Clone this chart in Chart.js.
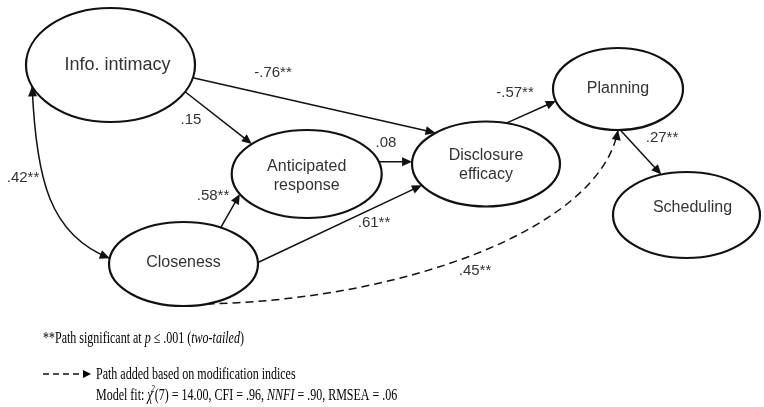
<!DOCTYPE html>
<html>
<head>
<meta charset="utf-8">
<script src="https://cdn.jsdelivr.net/npm/chart.js@4.4.1/dist/chart.umd.min.js"></script>
<style>
	html, body { margin: 0; padding: 0; background: #fff; }
	canvas { display: block; }
</style>
</head>
<body>
<canvas id="pathChart" width="764" height="407"></canvas>
<script>
// model variables and estimated paths
const variables = ['Info. intimacy', ['Anticipated', 'response'], ['Disclosure', 'efficacy'], 'Planning', 'Scheduling', 'Closeness'];
const pathFrom = [0, 0, 1, 5, 5, 2, 3, 5, 0];
const pathTo = [2, 1, 2, 1, 2, 3, 4, 3, 5];
const pathCoef = [-0.76, 0.15, 0.08, 0.58, 0.61, -0.57, 0.27, 0.45, 0.42];
const pathSig = [true, false, false, true, true, true, true, true, true];
const pathType = ['direct', 'direct', 'direct', 'direct', 'direct', 'direct', 'direct', 'added', 'covariance'];

// model fit
const fitDf = 7;
const fitChi2 = 14.00;
const fitCFI = 0.96;
const fitNNFI = 0.90;
const fitRMSEA = 0.06;

// layout of the diagram (in chart units)
const nodeBox = [
	{x: 110.5, y: 65, rx: 84.5, ry: 57, size: 18, dx: 7, dy: 0},
	{x: 306.7, y: 174, rx: 75, ry: 44, size: 16, dx: 0, dy: 2},
	{x: 486, y: 164, rx: 74, ry: 42.5, size: 16, dx: 0, dy: 1},
	{x: 618, y: 89, rx: 65, ry: 41, size: 16, dx: 0, dy: 0},
	{x: 686.5, y: 215, rx: 73.5, ry: 43, size: 16, dx: 6, dy: -7},
	{x: 183.5, y: 264, rx: 74.5, ry: 42, size: 16, dx: 0, dy: -1}
];
const pathLayout = [
	{a0: 13, a1: -133, lx: 273, ly: 73},
	{a0: 28, a1: -137, lx: 191, ly: 120},
	{a0: -16, a1: 183, lx: 386, ly: 143},
	{a0: -60, a1: 153, lx: 213, ly: 196},
	{a0: -2, a1: 150, lx: 374, ly: 223},
	{a0: -74, a1: 163, lx: 515, ly: 93},
	{a0: 88, a1: -110, lx: 662, ly: 138},
	{a0: 72, a1: 90, c1: [400, 300], c2: [600, 230], lx: 475, ly: 271},
	{a0: 158, a1: 188, c1: [36, 180], c2: [50, 235], lx: 23, ly: 178}
];

function fmtCoef(v, sig) {
	return (v < 0 ? '-' : '') + Math.abs(v).toFixed(2).replace(/^0/, '') + (sig ? '**' : '');
}

function arrowHead(ctx, tip, from, len, half) {
	const dx = tip[0] - from[0], dy = tip[1] - from[1];
	const d = Math.hypot(dx, dy), ux = dx / d, uy = dy / d;
	ctx.beginPath();
	ctx.moveTo(tip[0], tip[1]);
	ctx.lineTo(tip[0] - ux * len - uy * half, tip[1] - uy * len + ux * half);
	ctx.lineTo(tip[0] - ux * len + uy * half, tip[1] - uy * len - ux * half);
	ctx.closePath();
	ctx.fill();
}

// text runs with mixed fonts, squeezed horizontally like the original notes
function drawRuns(ctx, runs, x, y, squeeze) {
	ctx.save();
	ctx.translate(x, y);
	ctx.scale(squeeze, 1);
	let cx = 0;
	runs.forEach(r => {
		ctx.font = r[1];
		ctx.fillText(r[0], cx, r[2] || 0);
		cx += ctx.measureText(r[0]).width + (r[3] || 0);
	});
	ctx.restore();
}

const diagram = {
	id: 'diagram',
	afterDatasetsDraw(chart) {
		const ctx = chart.ctx;
		const xs = chart.scales.x, ys = chart.scales.y;
		const pts = chart.getDatasetMeta(0).data;
		const px = v => xs.getPixelForValue(v);
		const py = v => ys.getPixelForValue(v);
		const kx = (px(100) - px(0)) / 100;
		const ky = Math.abs(py(100) - py(0)) / 100;
		const anchor = (i, deg) => {
			const t = deg * Math.PI / 180;
			return [pts[i].x + nodeBox[i].rx * kx * Math.cos(t), pts[i].y + nodeBox[i].ry * ky * Math.sin(t)];
		};

		ctx.save();
		// ellipses
		ctx.strokeStyle = '#111';
		ctx.lineWidth = 2.2;
		nodeBox.forEach((n, i) => {
			ctx.beginPath();
			ctx.ellipse(pts[i].x, pts[i].y, n.rx * kx, n.ry * ky, 0, 0, Math.PI * 2);
			ctx.stroke();
		});

		// node names
		ctx.fillStyle = '#333';
		ctx.textAlign = 'center';
		ctx.textBaseline = 'middle';
		variables.forEach((v, i) => {
			const n = nodeBox[i];
			const lines = Array.isArray(v) ? v : [v];
			ctx.font = n.size + 'px "Liberation Sans", Arial, sans-serif';
			lines.forEach((t, k) => {
				ctx.fillText(t, pts[i].x + n.dx * kx, pts[i].y + (n.dy + (k - (lines.length - 1) / 2) * 18.5) * ky);
			});
		});

		// paths
		ctx.strokeStyle = '#111';
		ctx.fillStyle = '#111';
		ctx.lineWidth = 1.5;
		pathFrom.forEach((f, i) => {
			const L = pathLayout[i];
			const s = anchor(f, L.a0), e = anchor(pathTo[i], L.a1);
			if (pathType[i] === 'direct') {
				const d = Math.hypot(e[0] - s[0], e[1] - s[1]);
				const ux = (e[0] - s[0]) / d, uy = (e[1] - s[1]) / d;
				ctx.beginPath();
				ctx.moveTo(s[0], s[1]);
				ctx.lineTo(e[0] - ux * 5, e[1] - uy * 5);
				ctx.stroke();
				arrowHead(ctx, e, s, 10, 4.5);
			} else {
				const c1 = [px(L.c1[0]), py(L.c1[1])], c2 = [px(L.c2[0]), py(L.c2[1])];
				ctx.save();
				if (pathType[i] === 'added') ctx.setLineDash([8, 5]);
				ctx.beginPath();
				ctx.moveTo(s[0], s[1]);
				ctx.bezierCurveTo(c1[0], c1[1], c2[0], c2[1], e[0], e[1]);
				ctx.stroke();
				ctx.restore();
				arrowHead(ctx, e, c2, 10, 4.5);
				if (pathType[i] === 'covariance') arrowHead(ctx, s, c1, 10, 4.5);
			}
		});

		// coefficients
		ctx.fillStyle = '#333';
		ctx.font = '15px "Liberation Sans", Arial, sans-serif';
		pathCoef.forEach((v, i) => {
			ctx.fillText(fmtCoef(v, pathSig[i]), px(pathLayout[i].lx), py(pathLayout[i].ly));
		});

		// notes
		const R = '16px "Liberation Serif", "Times New Roman", serif';
		const I = 'italic 16px "Liberation Serif", "Times New Roman", serif';
		const S = 'italic 10px "Liberation Serif", "Times New Roman", serif';
		ctx.fillStyle = '#000';
		ctx.textAlign = 'left';
		ctx.textBaseline = 'alphabetic';
		drawRuns(ctx, [['**Path significant at ', R], ['p', I], [' \u2264 .001 (', R], ['two-tailed', I], [')', R]], px(43), py(343), 0.75);

		ctx.save();
		ctx.setLineDash([6, 4]);
		ctx.beginPath();
		ctx.moveTo(px(43), py(374));
		ctx.lineTo(px(83), py(374));
		ctx.stroke();
		ctx.restore();
		arrowHead(ctx, [px(91), py(374)], [px(80), py(374)], 8, 4);

		drawRuns(ctx, [['Path added based on modification indices', R]], px(96), py(379), 0.75);
		drawRuns(ctx, [
			['Model fit: ', R], ['\u03c7', I, 0, -2], ['2', S, -8],
			['(' + fitDf + ') = ' + fitChi2.toFixed(2) + ', CFI = ' + fmtCoef(fitCFI) + ', ', R],
			['NNFI', I], [' = ' + fmtCoef(fitNNFI) + ', RMSEA = ' + fmtCoef(fitRMSEA), R]
		], px(96), py(400), 0.75);
		ctx.restore();
	}
};

new Chart(document.getElementById('pathChart'), {
	type: 'scatter',
	data: {
		datasets: [
			{
				data: nodeBox.map(n => ({x: n.x, y: n.y})),
				pointRadius: 0,
				pointHoverRadius: 0
			}
		]
	},
	options: {
		responsive: false,
		animation: false,
		layout: { padding: 0 },
		scales: {
			x: { type: 'linear', min: 0, max: 764, display: false },
			y: { type: 'linear', min: 0, max: 407, reverse: true, display: false }
		},
		plugins: {
			legend: { display: false },
			tooltip: { enabled: false }
		}
	},
	plugins: [diagram]
});
</script>
</body>
</html>
